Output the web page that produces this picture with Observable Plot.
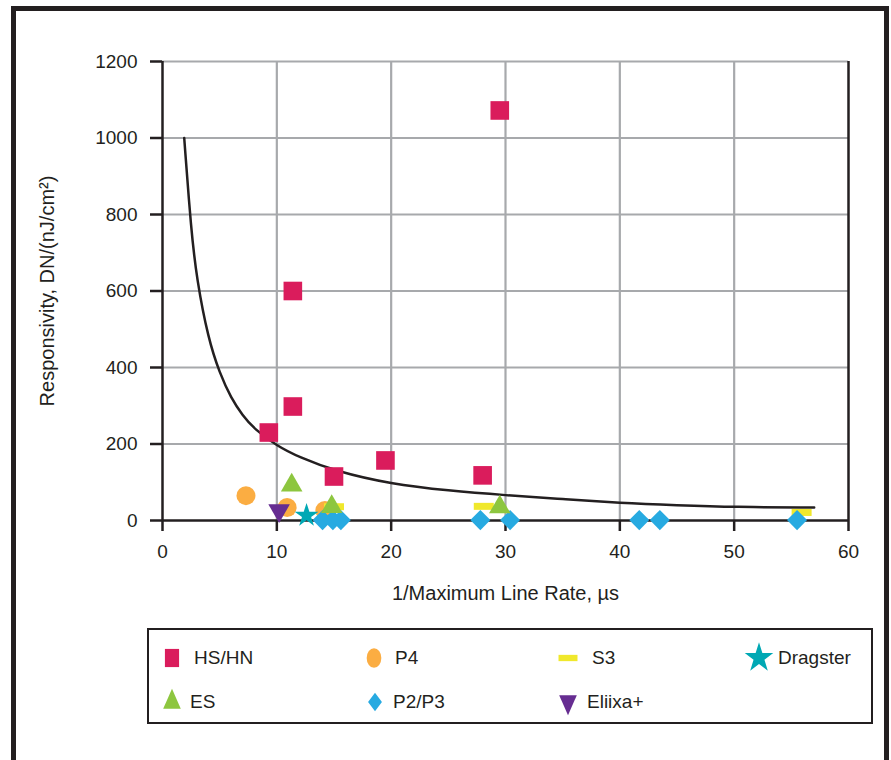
<!DOCTYPE html>
<html><head><meta charset="utf-8">
<script src="https://cdn.jsdelivr.net/npm/d3@7"></script>
<script src="https://cdn.jsdelivr.net/npm/@observablehq/plot@0.6"></script>
<style>
body{margin:0;background:#fff;font-family:"Liberation Sans",Arial,sans-serif;color:#231f20;}
#frame{position:absolute;left:11px;top:6px;width:878px;height:770px;border:5px solid #231f20;box-sizing:border-box;}
#chart{position:absolute;left:0;top:0;}
#legend{position:absolute;left:147px;top:628px;width:726px;height:96px;border:2px solid #231f20;box-sizing:border-box;background:#fff;}
.item{position:absolute;display:flex;align-items:center;font-size:19px;line-height:1;}
</style></head><body>
<div id="frame"></div>
<div id="chart"></div>
<div id="legend"></div>
<script>
// ---- data ----
const seriesNames = ["HS/HN", "P4", "S3", "Dragster", "ES", "P2/P3", "Eliixa+"];
const seriesColors = ["#da1c5c", "#fbad42", "#f0e82c", "#00a8b4", "#8dc63f", "#27aae1", "#662d91"];

const hsX = [9.3, 11.4, 11.4, 15.0, 19.5, 28.0, 29.5];
const hsY = [230, 600, 298, 115, 157, 118, 1072];
const p4X = [7.3, 10.9, 14.2];
const p4Y = [65, 34, 26];
const s3X = [15.0, 28.1, 55.9];
const s3Y = [36, 37, 21];
const dragX = [12.6];
const dragY = [13];
const esX = [11.3, 14.8, 29.5];
const esY = [92, 36, 35];
const p2X = [14.0, 14.9, 15.6, 27.8, 30.4, 41.7, 43.5, 55.5];
const p2Y = [1, 1, 1, 1, 1, 1, 1, 1];
const eliX = [10.2];
const eliY = [26];

const curveX = [1.9, 2.5, 3, 4, 5, 6, 7, 8, 10, 12, 15, 20, 25, 30, 35, 40, 45, 50, 57];
const curveY = [1000, 760, 630, 475, 385, 320, 275, 240, 195, 165, 130, 95, 78, 66, 56, 46, 40, 35, 34];

const xTicks = [0, 10, 20, 30, 40, 50, 60];
const yTicks = [0, 200, 400, 600, 800, 1000, 1200];
const xLabel = "1/Maximum Line Rate, µs";
const yLabel = "Responsivity, DN/(nJ/cm²)";

// ---- build ----
const pts = (xs, ys) => xs.map((x, i) => ({x, y: ys[i]}));
const curve = pts(curveX, curveY);
const dark = "#231f20", grid = "#a7a9ac";

const barSymbol = {draw(ctx, size) { const w = 10, h = 3.5; ctx.moveTo(-w, -h); ctx.lineTo(w, -h); ctx.lineTo(w, h); ctx.lineTo(-w, h); ctx.closePath(); }};

const chart = Plot.plot({
  width: 891, height: 620,
  marginLeft: 162, marginRight: 43, marginTop: 61, marginBottom: 100,
  style: {fontFamily: "'Liberation Sans', Arial, sans-serif", fontSize: "19px", color: dark, background: "transparent"},
  x: {domain: [0, 60]},
  y: {domain: [0, 1200]},
  marks: [
    Plot.gridX(xTicks.slice(1, -1), {stroke: grid, strokeOpacity: 1, strokeWidth: 2.2}),
    Plot.gridY(yTicks.slice(1), {stroke: grid, strokeOpacity: 1, strokeWidth: 2.2}),
    Plot.ruleX([60], {stroke: dark, strokeWidth: 2.5}),
    Plot.ruleX([0], {stroke: dark, strokeWidth: 2.5}),
    Plot.ruleY([0], {stroke: dark, strokeWidth: 2.5}),
    Plot.axisX({ticks: xTicks, tickFormat: d => String(d), tickSize: 11, tickPadding: 13, stroke: dark, strokeWidth: 2.5, fontSize: 19,
      label: null}),
    Plot.axisY({ticks: yTicks, tickFormat: d => String(d), tickSize: 12, tickPadding: 13, stroke: dark, strokeWidth: 2.5, fontSize: 19,
      label: null}),
    Plot.text([xLabel], {frameAnchor: "bottom", dy: 79, text: d => d, fontSize: 20, fill: dark}),
    Plot.text([yLabel], {frameAnchor: "left", dx: -115, rotate: -90, textAnchor: "middle", text: d => d, fontSize: 20, fill: dark}),
    Plot.line(curve, {x: "x", y: "y", stroke: dark, strokeWidth: 2.5, curve: "basis"}),
    Plot.dot(pts(hsX, hsY), {x: "x", y: "y", symbol: "square", r: 10.5, fill: seriesColors[0]}),
    Plot.dot(pts(p4X, p4Y), {x: "x", y: "y", symbol: "circle", r: 9.5, fill: seriesColors[1]}),
    Plot.dot(pts(s3X, s3Y), {x: "x", y: "y", symbol: barSymbol, r: 6, fill: seriesColors[2]}),
    Plot.dot(pts(p2X, p2Y), {x: "x", y: "y", symbol: "square", rotate: 45, r: 8, fill: seriesColors[5]}),
    Plot.dot(pts(esX, esY), {x: "x", y: "y", symbol: "triangle", r: 8, fill: seriesColors[4]}),
    Plot.dot(pts(eliX, eliY), {x: "x", y: "y", symbol: "triangle", rotate: 180, r: 8, fill: seriesColors[6]}),
    Plot.dot(pts(dragX, dragY), {x: "x", y: "y", symbol: "star", r: 7.5, fill: seriesColors[3]})
  ]
});
document.getElementById("chart").appendChild(chart);

// ---- legend ----
const legendSymbols = [
  {sym: d3.symbolSquare, size: 330, sx: 0.78, sy: 1, rot: 0},
  {sym: d3.symbolCircle, size: 300, sx: 0.75, sy: 1, rot: 0},
  {sym: barSymbol, size: 100, sx: 0.95, sy: 0.9, rot: 0},
  {sym: d3.symbolStar, size: 280, sx: 0.95, sy: 1, rot: 0},
  {sym: d3.symbolTriangle, size: 210, sx: 0.8, sy: 1.05, rot: 0},
  {sym: d3.symbolSquare, size: 170, sx: 0.75, sy: 1, rot: 45},
  {sym: d3.symbolTriangle, size: 210, sx: 0.8, sy: 1.05, rot: 180}
];
const legendPos = [
  {sx: 23, tx: 45, y: 28}, {sx: 225, tx: 246, y: 28}, {sx: 419, tx: 443, y: 28}, {sx: 610, tx: 629, y: 28},
  {sx: 23, tx: 41, y: 72}, {sx: 226, tx: 244, y: 72}, {sx: 419, tx: 438, y: 72}
];
const legend = d3.select("#legend");
seriesNames.forEach((name, i) => {
  const p = legendPos[i], s = legendSymbols[i];
  const svg = legend.append("svg").attr("width", 1).attr("height", 1)
    .style("position", "absolute").style("left", p.sx + "px").style("top", p.y + "px").style("overflow", "visible");
  const rot = s.rot ? ` rotate(${s.rot})` : "";
  svg.append("path").attr("d", d3.symbol(s.sym, s.size)())
    .attr("transform", `scale(${s.sx},${s.sy})${rot}`)
    .attr("fill", seriesColors[i]);
  legend.append("div").attr("class", "item").style("left", p.tx + "px").style("top", (p.y - 10) + "px").text(name);
});
</script>
</body></html>
